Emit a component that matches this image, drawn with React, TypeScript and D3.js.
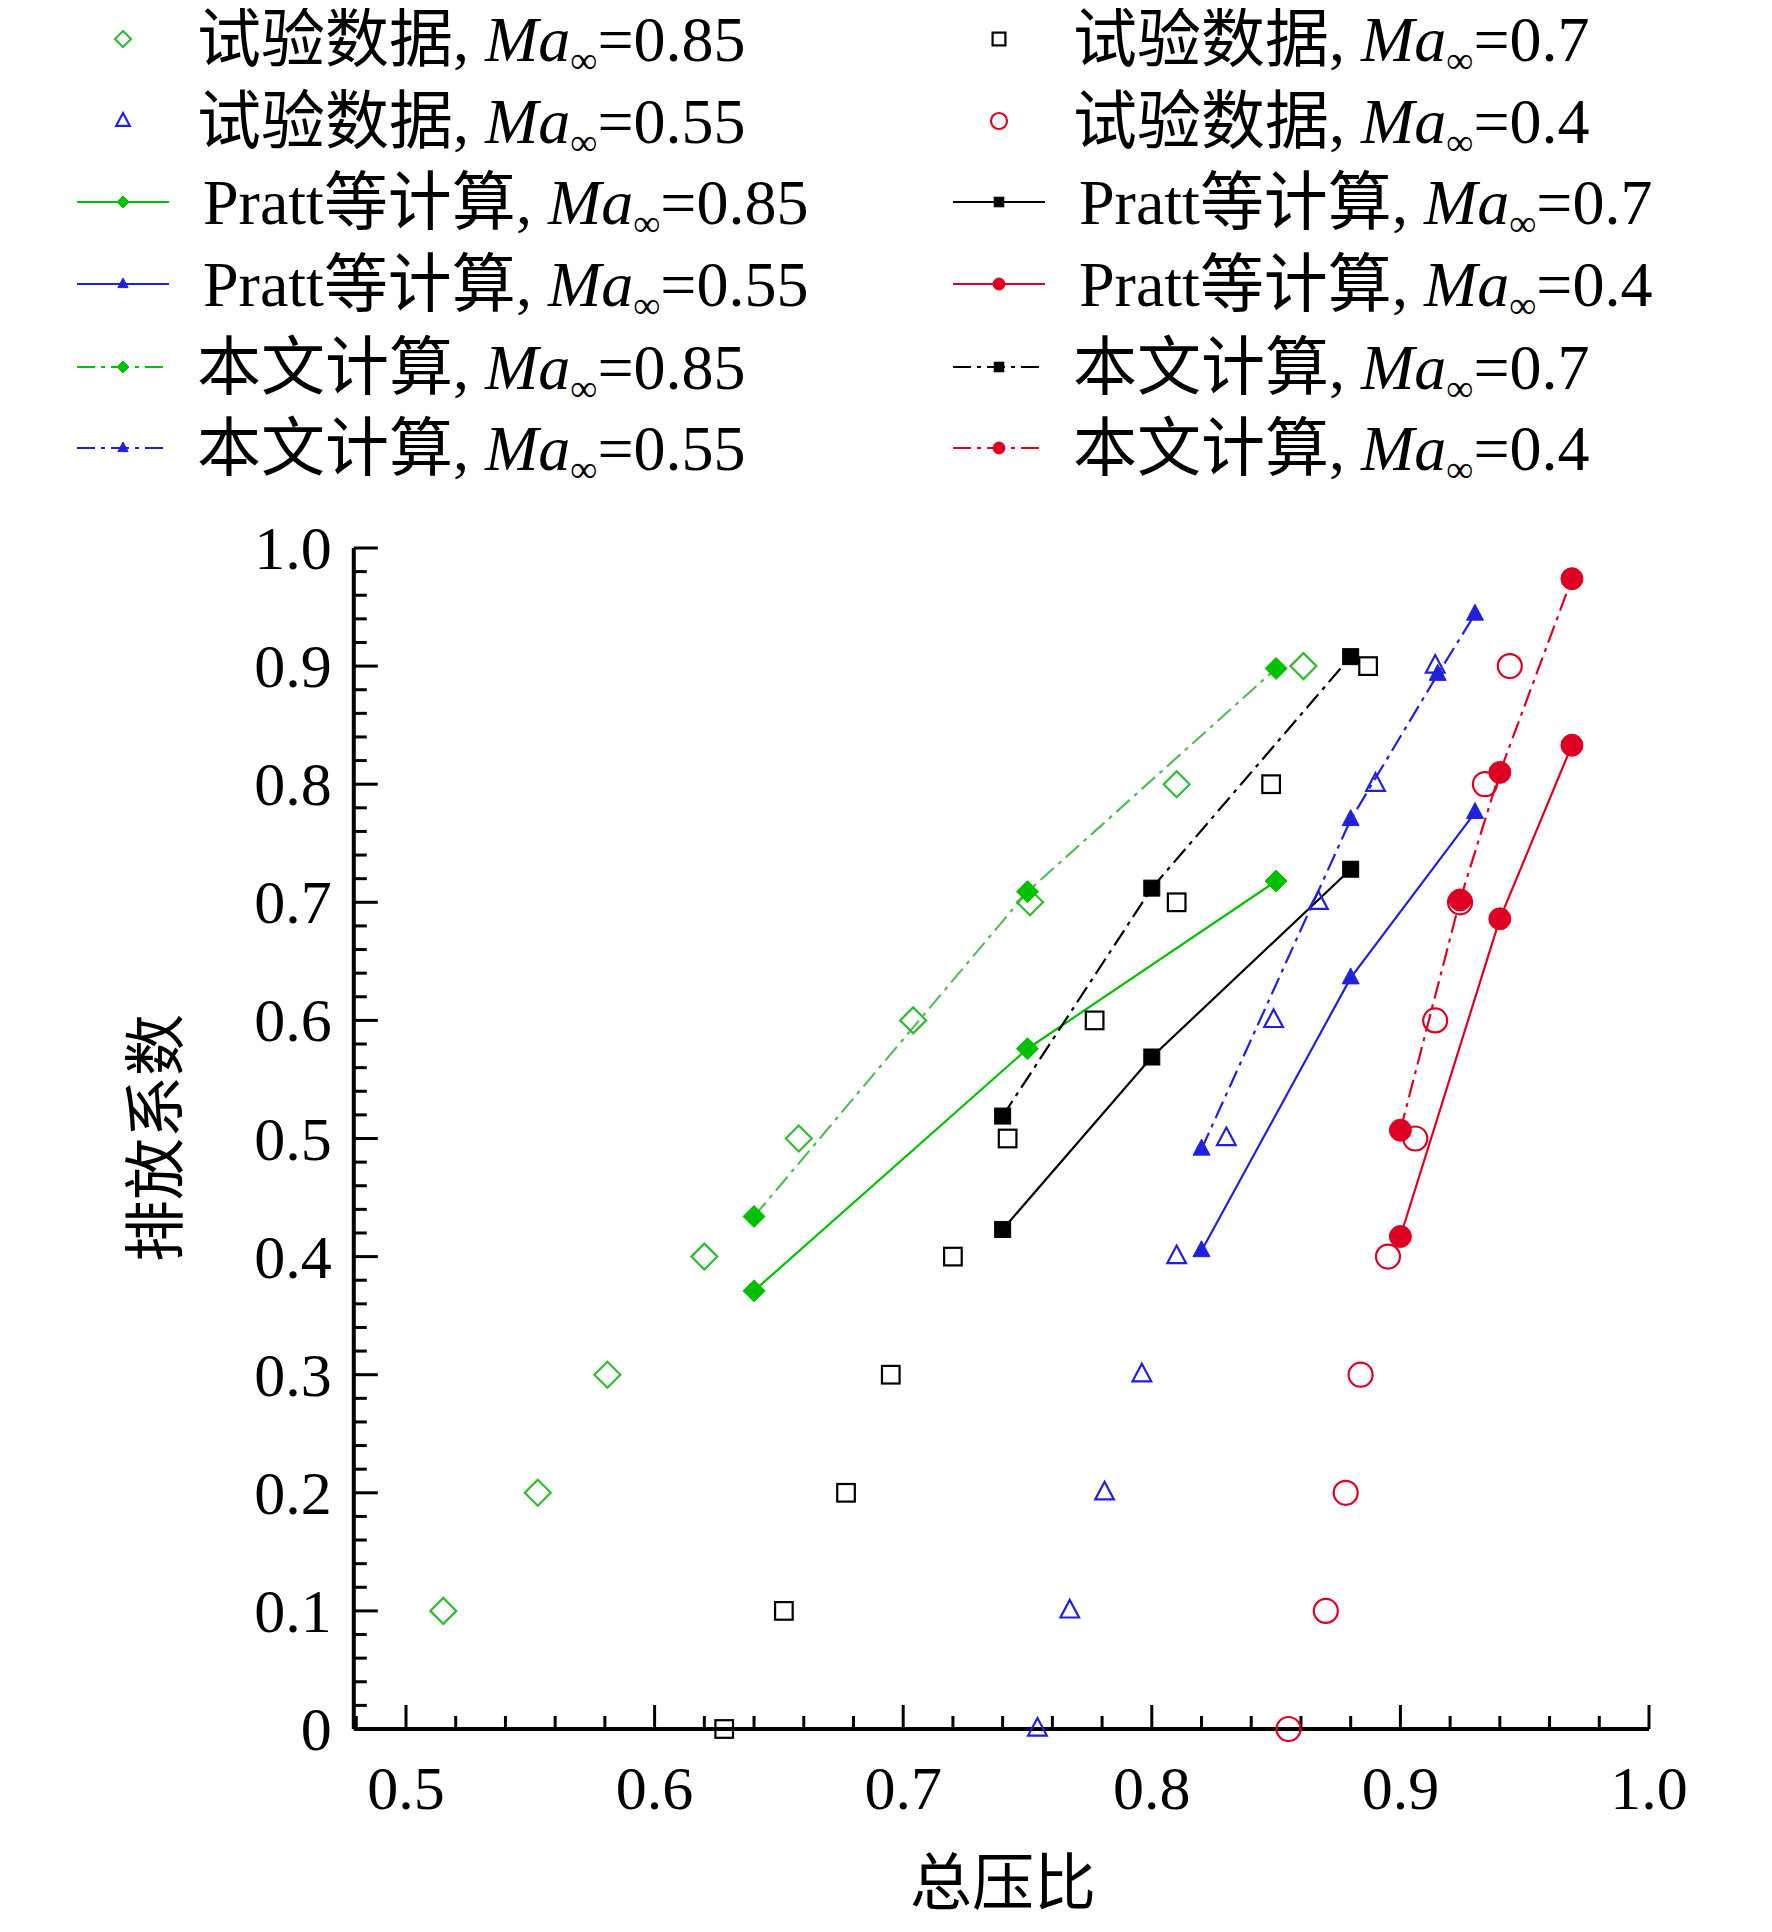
import * as d3 from "d3";
import React from "react";

type P = [number, number];

const testM085: P[] = [[0.515,0.1],[0.553,0.2],[0.581,0.3],[0.62,0.4],[0.658,0.5],[0.704,0.6],[0.751,0.7],[0.81,0.8],[0.861,0.9]];
const testM07: P[] = [[0.628,0],[0.652,0.1],[0.677,0.2],[0.695,0.3],[0.72,0.4],[0.742,0.5],[0.777,0.6],[0.81,0.7],[0.848,0.8],[0.887,0.9]];
const testM055: P[] = [[0.754,0],[0.767,0.1],[0.781,0.2],[0.796,0.3],[0.81,0.4],[0.83,0.5],[0.849,0.6],[0.867,0.7],[0.89,0.8],[0.914,0.9]];
const testM04: P[] = [[0.855,0],[0.87,0.1],[0.878,0.2],[0.884,0.3],[0.895,0.4],[0.906,0.5],[0.914,0.6],[0.924,0.7],[0.934,0.8],[0.944,0.9]];
const prattM085: P[] = [[0.64,0.371],[0.75,0.576],[0.85,0.718]];
const prattM07: P[] = [[0.74,0.423],[0.8,0.569],[0.88,0.728]];
const prattM055: P[] = [[0.82,0.405],[0.88,0.636],[0.93,0.776]];
const prattM04: P[] = [[0.9,0.417],[0.94,0.686],[0.969,0.833]];
const calcM085: P[] = [[0.64,0.434],[0.75,0.709],[0.85,0.898]];
const calcM07: P[] = [[0.74,0.519],[0.8,0.712],[0.88,0.908]];
const calcM055: P[] = [[0.82,0.491],[0.88,0.77],[0.915,0.893],[0.93,0.944]];
const calcM04: P[] = [[0.9,0.507],[0.924,0.702],[0.94,0.81],[0.969,0.974]];

const xTicks = [0.5, 0.6, 0.7, 0.8, 0.9, 1.0];
const yTicks = [0, 0.1, 0.2, 0.3, 0.4, 0.5, 0.6, 0.7, 0.8, 0.9, 1.0];

const GREEN = "#00c000";
const GREEN_OPEN = "#33bb33";
const BLUE = "#2020dd";
const RED = "#dd0022";
const DASH = "18,6,4,6";
const FONT = "'Liberation Serif', 'Noto Sans CJK SC', serif";

type Shape = "diamond" | "square" | "triangle" | "circle";

function Marker({ shape, x, y, s, color, filled }: { shape: Shape; x: number; y: number; s: number; color: string; filled: boolean }) {
  const fill = filled ? color : "none";
  const sw = filled ? 1 : 2.2;
  if (shape === "diamond")
    return <path d={`M${x},${y - s}L${x + s},${y}L${x},${y + s}L${x - s},${y}Z`} fill={fill} stroke={color} strokeWidth={sw} />;
  if (shape === "square")
    return <rect x={x - s * 0.8} y={y - s * 0.8} width={s * 1.6} height={s * 1.6} fill={fill} stroke={color} strokeWidth={sw} />;
  if (shape === "triangle")
    return <path d={`M${x},${y - s}L${x + s * 0.85},${y + s * 0.6}L${x - s * 0.85},${y + s * 0.6}Z`} fill={fill} stroke={color} strokeWidth={sw} />;
  return <circle cx={x} cy={y} r={s} fill={fill} stroke={color} strokeWidth={sw} />;
}

interface Series { name: string; data: P[]; color: string; shape: Shape; kind: "test" | "pratt" | "calc"; size: number; }

const series: Series[] = [
  { name: "试验数据", data: testM085, color: GREEN_OPEN, shape: "diamond", kind: "test", size: 13 },
  { name: "试验数据", data: testM07, color: "#000", shape: "square", kind: "test", size: 11 },
  { name: "试验数据", data: testM055, color: BLUE, shape: "triangle", kind: "test", size: 11 },
  { name: "试验数据", data: testM04, color: RED, shape: "circle", kind: "test", size: 12 },
  { name: "Pratt等计算", data: prattM085, color: GREEN, shape: "diamond", kind: "pratt", size: 11 },
  { name: "Pratt等计算", data: prattM07, color: "#000", shape: "square", kind: "pratt", size: 10 },
  { name: "Pratt等计算", data: prattM055, color: BLUE, shape: "triangle", kind: "pratt", size: 10 },
  { name: "Pratt等计算", data: prattM04, color: RED, shape: "circle", kind: "pratt", size: 11 },
  { name: "本文计算", data: calcM085, color: GREEN, shape: "diamond", kind: "calc", size: 11 },
  { name: "本文计算", data: calcM07, color: "#000", shape: "square", kind: "calc", size: 10 },
  { name: "本文计算", data: calcM055, color: BLUE, shape: "triangle", kind: "calc", size: 10 },
  { name: "本文计算", data: calcM04, color: RED, shape: "circle", kind: "calc", size: 11 },
];
const machs = ["0.85", "0.7", "0.55", "0.4"];

export default function App() {
  const W = 1772, H = 1932;
  const x = d3.scaleLinear().domain([0.5, 1.0]).range([406, 1649]);
  const y = d3.scaleLinear().domain([0, 1]).range([1729, 548]);
  const line = d3.line<P>().x((d) => x(d[0])).y((d) => y(d[1]));
  const x0 = x(0.479);
  const minorX = d3.range(0.48, 1.0001, 0.02);
  const minorY = d3.range(0, 1.0001, 0.02);
  const rowsY = [39, 121, 202, 284, 367, 448];

  return (
    <svg width={W} height={H} style={{ display: "block", margin: -8, background: "#fff" }} fontFamily={FONT}>
      <line x1={x0} x2={x(1)} y1={y(0)} y2={y(0)} stroke="#000" strokeWidth={4} />
      <line x1={x0} x2={x0} y1={y(0)} y2={y(1)} stroke="#000" strokeWidth={4} />
      {minorX.map((v, i) => {
        const major = xTicks.some((t) => Math.abs(t - v) < 1e-6);
        return <line key={"mx" + i} x1={x(v)} x2={x(v)} y1={y(0)} y2={y(0) - (major ? 24 : 13)} stroke="#000" strokeWidth={3} />;
      })}
      {minorY.map((v, i) => {
        const major = yTicks.some((t) => Math.abs(t - v) < 1e-6);
        return <line key={"my" + i} x1={x0} x2={x0 + (major ? 24 : 13)} y1={y(v)} y2={y(v)} stroke="#000" strokeWidth={3} />;
      })}
      {xTicks.map((t) => (
        <text key={"xt" + t} x={x(t)} y={y(0) + 80} fontSize={62} textAnchor="middle">{t.toFixed(1)}</text>
      ))}
      {yTicks.map((t) => (
        <text key={"yt" + t} x={x0 - 22} y={y(t) + 21} fontSize={62} textAnchor="end">{t === 0 ? "0" : t.toFixed(1)}</text>
      ))}
      <text x={1003} y={1905} fontSize={62} textAnchor="middle">总压比</text>
      <text transform="translate(178,1138) rotate(-90)" fontSize={62} textAnchor="middle">排放系数</text>

      {series.filter((s) => s.kind !== "test").map((s, i) => (
        <path key={"l" + i} d={line(s.data)!} fill="none" stroke={s.kind === "calc" && s.color === GREEN ? "#55bb55" : s.color}
          strokeWidth={2.2} strokeDasharray={s.kind === "calc" ? DASH : undefined} />
      ))}
      {series.map((s, i) =>
        s.data.map((d, j) => (
          <Marker key={`m${i}-${j}`} shape={s.shape} x={x(d[0])} y={y(d[1])} s={s.size} color={s.color} filled={s.kind !== "test"} />
        ))
      )}

      {series.map((s, k) => {
        const col = k % 2;
        const row = Math.floor(k / 2);
        const mach = machs[k % 4];
        const cx = col === 0 ? 123 : 999;
        const ty = rowsY[row];
        const tx = (col === 0 ? 197 : 1073) + (s.kind === "pratt" ? 6 : 0);
        return (
          <g key={"lg" + k}>
            {s.kind !== "test" && (
              <line x1={cx - 46} x2={cx + 46} y1={ty} y2={ty} stroke={s.color} strokeWidth={2.2}
                strokeDasharray={s.kind === "calc" ? DASH : undefined} />
            )}
            <Marker shape={s.shape} x={cx} y={ty} s={s.kind === "test" ? 8 : 6} color={s.color} filled={s.kind !== "test"} />
            <text x={tx} y={ty + 22} fontSize={64}>
              {s.name}, <tspan fontStyle="italic">Ma</tspan>
              <tspan fontSize={38} dy={12}>∞</tspan>
              <tspan dy={-12}>={mach}</tspan>
            </text>
          </g>
        );
      })}
    </svg>
  );
}
